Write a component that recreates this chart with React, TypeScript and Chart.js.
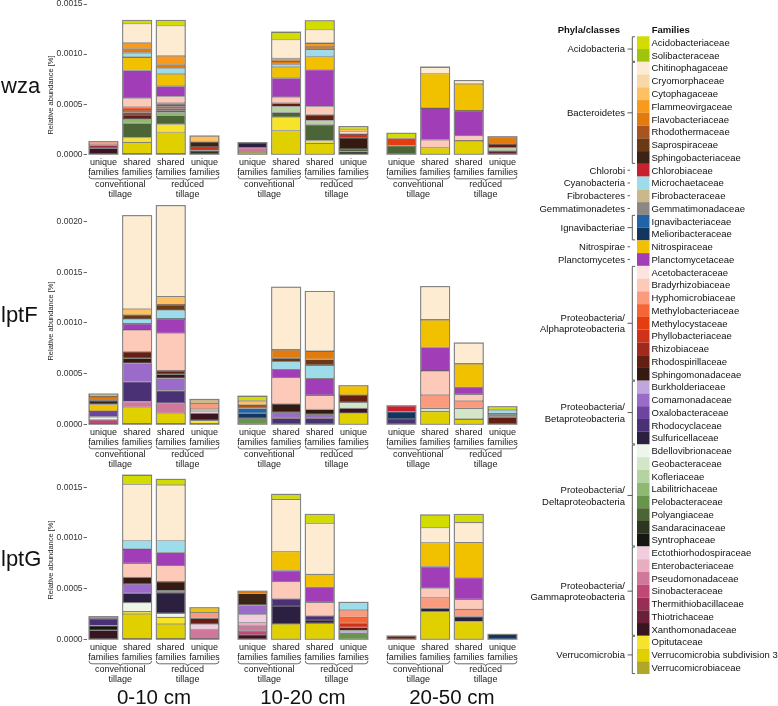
import React, { useEffect, useRef } from "react";
import { Chart, registerables } from "chart.js";
Chart.register(...registerables);

const FONT = "'Liberation Sans', Arial, Helvetica, sans-serif";

// ---------------- legend: families & colours ----------------
const families: string[] = [
  "Acidobacteriaceae", "Solibacteraceae",
  "Chitinophagaceae", "Cryomorphaceae", "Cytophagaceae", "Flammeovirgaceae", "Flavobacteriaceae",
  "Rhodothermaceae", "Saprospiraceae", "Sphingobacteriaceae",
  "Chlorobiaceae", "Microchaetaceae", "Fibrobacteraceae", "Gemmatimonadaceae",
  "Ignavibacteriaceae", "Melioribacteraceae", "Nitrospiraceae", "Planctomycetaceae",
  "Acetobacteraceae", "Bradyrhizobiaceae", "Hyphomicrobiaceae", "Methylobacteriaceae", "Methylocystaceae",
  "Phyllobacteriaceae", "Rhizobiaceae", "Rhodospirillaceae", "Sphingomonadaceae",
  "Burkholderiaceae", "Comamonadaceae", "Oxalobacteraceae", "Rhodocyclaceae", "Sulfuricellaceae",
  "Bdellovibrionaceae", "Geobacteraceae", "Kofleriaceae", "Labilitrichaceae", "Pelobacteraceae",
  "Polyangiaceae", "Sandaracinaceae", "Syntrophaceae",
  "Ectothiorhodospiraceae", "Enterobacteriaceae", "Pseudomonadaceae", "Sinobacteraceae",
  "Thermithiobacillaceae", "Thiotrichaceae", "Xanthomonadaceae",
  "Opitutaceae", "Verrucomicrobia subdivision 3", "Verrucomicrobiaceae",
];
const familyColors: string[] = [
  "#d2dc00", "#9fc40c",
  "#fdebd2", "#f6d9a6", "#fdc062", "#f89a1e", "#e27b0e",
  "#a8541c", "#6b3a15", "#3b2415",
  "#c8202f", "#9ddcea", "#cbb888", "#8c8782",
  "#1f63a8", "#13365f", "#f1c100", "#a23db8",
  "#fde4df", "#fdc9b9", "#fb9b7e", "#f56536", "#e43e10",
  "#cf3119", "#a12a1c", "#651f12", "#341a10",
  "#c1a6dc", "#9a6bc9", "#6d44a0", "#4a3075", "#2c2040",
  "#eef5ea", "#d3e6c8", "#b5d3a0", "#8fb872", "#67954a",
  "#4b6536", "#2c3620", "#161712",
  "#f2cde0", "#e7aec2", "#d0779c", "#c04875",
  "#982e54", "#6b2039", "#3a1520",
  "#f6e32a", "#e0d000", "#b0a62a",
];
const phylaLabels: string[][] = [
  ["Acidobacteria"], ["Bacteroidetes"], ["Chlorobi"], ["Cyanobacteria"], ["Fibrobacteres"],
  ["Gemmatimonadetes"], ["Ignavibacteriae"], ["Nitrospirae"], ["Planctomycetes"],
  ["Proteobacteria/", "Alphaproteobacteria"], ["Proteobacteria/", "Betaproteobacteria"],
  ["Proteobacteria/", "Deltaproteobacteria"], ["Proteobacteria/", "Gammaproteobacteria"],
  ["Verrucomicrobia"],
];
const phylaRanges: number[][] = [
  [0, 1], [2, 9], [10, 10], [11, 11], [12, 12], [13, 13], [14, 15], [16, 16], [17, 17],
  [18, 26], [27, 31], [32, 39], [40, 46], [47, 49],
];

// ---------------- categories / labels ----------------
const categories: string[][] = [["unique", "families"], ["shared", "families"], ["shared", "families"], ["unique", "families"]];
const tillageGroups: string[][] = [["conventional", "tillage"], ["reduced", "tillage"]];
const genes: string[] = ["wza", "lptF", "lptG"];
const depths: string[] = ["0-10 cm", "10-20 cm", "20-50 cm"];
const wzaTicks: number[] = [0, 0.0005, 0.001, 0.0015];
const lptFTicks: number[] = [0, 0.0005, 0.001, 0.0015, 0.002];
const lptGTicks: number[] = [0, 0.0005, 0.001, 0.0015];

type Seg = [string, number];
// each panel: [unique conv, shared conv, shared reduced, unique reduced]
const wza_0_10: Seg[][] = [
  [["Hyphomicrobiaceae", 36e-6], ["Thermithiobacillaceae", 31e-6], ["Xanthomonadaceae", 60e-6]],
  [["Acidobacteriaceae", 33e-6], ["Chitinophagaceae", 190e-6], ["Flammeovirgaceae", 60e-6], ["Flavobacteriaceae", 40e-6],
   ["Microchaetaceae", 43e-6], ["Nitrospiraceae", 133e-6], ["Planctomycetaceae", 277e-6], ["Bradyrhizobiaceae", 90e-6],
   ["Methylobacteriaceae", 27e-6], ["Methylocystaceae", 23e-6], ["Phyllobacteriaceae", 27e-6], ["Rhodospirillaceae", 40e-6],
   ["Labilitrichaceae", 43e-6], ["Polyangiaceae", 143e-6], ["Opitutaceae", 47e-6], ["Verrucomicrobia subdivision 3", 120e-6]],
  [["Acidobacteriaceae", 53e-6], ["Chitinophagaceae", 300e-6], ["Flammeovirgaceae", 90e-6], ["Flavobacteriaceae", 33e-6],
   ["Microchaetaceae", 57e-6], ["Nitrospiraceae", 123e-6], ["Planctomycetaceae", 103e-6], ["Bradyrhizobiaceae", 67e-6],
   ["Methylobacteriaceae", 15e-6], ["Methylocystaceae", 15e-6], ["Phyllobacteriaceae", 20e-6], ["Rhizobiaceae", 20e-6],
   ["Rhodospirillaceae", 20e-6], ["Labilitrichaceae", 33e-6], ["Polyangiaceae", 87e-6], ["Opitutaceae", 80e-6],
   ["Verrucomicrobia subdivision 3", 220e-6]],
  [["Cytophagaceae", 58e-6], ["Sphingobacteriaceae", 53e-6], ["Phyllobacteriaceae", 35e-6], ["Sandaracinaceae", 37e-6]],
];
const wza_10_20: Seg[][] = [
  [["Sulfuricellaceae", 51e-6], ["Pseudomonadaceae", 43e-6], ["Verrucomicrobiaceae", 23e-6]],
  [["Acidobacteriaceae", 77e-6], ["Chitinophagaceae", 186e-6], ["Flammeovirgaceae", 27e-6], ["Flavobacteriaceae", 33e-6],
   ["Microchaetaceae", 27e-6], ["Nitrospiraceae", 110e-6], ["Planctomycetaceae", 190e-6], ["Bradyrhizobiaceae", 60e-6],
   ["Rhodospirillaceae", 33e-6], ["Kofleriaceae", 60e-6], ["Polyangiaceae", 47e-6], ["Opitutaceae", 133e-6],
   ["Verrucomicrobia subdivision 3", 237e-6]],
  [["Acidobacteriaceae", 90e-6], ["Chitinophagaceae", 133e-6], ["Flammeovirgaceae", 27e-6], ["Flavobacteriaceae", 33e-6],
   ["Microchaetaceae", 73e-6], ["Nitrospiraceae", 133e-6], ["Planctomycetaceae", 367e-6], ["Bradyrhizobiaceae", 83e-6],
   ["Rhodospirillaceae", 57e-6], ["Kofleriaceae", 43e-6], ["Polyangiaceae", 157e-6], ["Opitutaceae", 27e-6],
   ["Verrucomicrobia subdivision 3", 110e-6]],
  [["Acidobacteriaceae", 27e-6], ["Cytophagaceae", 25e-6], ["Acetobacteraceae", 23e-6], ["Phyllobacteriaceae", 40e-6],
   ["Sphingomonadaceae", 108e-6], ["Polyangiaceae", 27e-6], ["Syntrophaceae", 27e-6]],
];
const wza_20_50: Seg[][] = [
  [["Acidobacteriaceae", 50e-6], ["Methylocystaceae", 73e-6], ["Polyangiaceae", 87e-6]],
  [["Chitinophagaceae", 67e-6], ["Nitrospiraceae", 343e-6], ["Planctomycetaceae", 317e-6], ["Bradyrhizobiaceae", 77e-6],
   ["Verrucomicrobia subdivision 3", 67e-6]],
  [["Chitinophagaceae", 33e-6], ["Nitrospiraceae", 270e-6], ["Planctomycetaceae", 247e-6], ["Bradyrhizobiaceae", 53e-6],
   ["Verrucomicrobia subdivision 3", 133e-6]],
  [["Flavobacteriaceae", 73e-6], ["Rhodospirillaceae", 37e-6], ["Kofleriaceae", 33e-6], ["Thiotrichaceae", 33e-6]],
];
const lptF_0_10: Seg[][] = [
  [["Cryomorphaceae", 20e-6], ["Flammeovirgaceae", 13e-6], ["Flavobacteriaceae", 33e-6], ["Sphingobacteriaceae", 37e-6],
   ["Nitrospiraceae", 66e-6], ["Oxalobacteraceae", 56e-6], ["Bdellovibrionaceae", 30e-6], ["Sinobacteraceae", 44e-6]],
  [["Chitinophagaceae", 921e-6], ["Cytophagaceae", 59e-6], ["Saprospiraceae", 39e-6], ["Microchaetaceae", 49e-6],
   ["Planctomycetaceae", 59e-6], ["Bradyrhizobiaceae", 214e-6], ["Rhodospirillaceae", 66e-6], ["Sphingomonadaceae", 49e-6],
   ["Comamonadaceae", 181e-6], ["Rhodocyclaceae", 197e-6], ["Pseudomonadaceae", 56e-6], ["Verrucomicrobia subdivision 3", 168e-6]],
  [["Chitinophagaceae", 898e-6], ["Cytophagaceae", 82e-6], ["Saprospiraceae", 49e-6], ["Microchaetaceae", 89e-6],
   ["Planctomycetaceae", 141e-6], ["Bradyrhizobiaceae", 372e-6], ["Rhodospirillaceae", 33e-6], ["Sphingomonadaceae", 39e-6],
   ["Comamonadaceae", 121e-6], ["Rhodocyclaceae", 125e-6], ["Pseudomonadaceae", 99e-6], ["Verrucomicrobia subdivision 3", 109e-6]],
  [["Fibrobacteraceae", 39e-6], ["Hyphomicrobiaceae", 56e-6], ["Geobacteraceae", 20e-6], ["Ectothiorhodospiraceae", 23e-6],
   ["Xanthomonadaceae", 69e-6], ["Opitutaceae", 39e-6]],
];
const lptF_10_20: Seg[][] = [
  [["Acidobacteriaceae", 46e-6], ["Cytophagaceae", 42e-6], ["Rhodothermaceae", 33e-6], ["Ignavibacteriaceae", 49e-6],
   ["Melioribacteraceae", 49e-6], ["Pelobacteraceae", 59e-6]],
  [["Chitinophagaceae", 619e-6], ["Flavobacteriaceae", 82e-6], ["Saprospiraceae", 33e-6], ["Microchaetaceae", 76e-6],
   ["Planctomycetaceae", 82e-6], ["Bradyrhizobiaceae", 260e-6], ["Sphingomonadaceae", 82e-6], ["Comamonadaceae", 59e-6],
   ["Rhodocyclaceae", 59e-6]],
  [["Chitinophagaceae", 588e-6], ["Flavobacteriaceae", 82e-6], ["Saprospiraceae", 56e-6], ["Microchaetaceae", 131e-6],
   ["Planctomycetaceae", 165e-6], ["Bradyrhizobiaceae", 141e-6], ["Sphingomonadaceae", 49e-6], ["Comamonadaceae", 39e-6],
   ["Rhodocyclaceae", 59e-6]],
  [["Nitrospiraceae", 92e-6], ["Rhodospirillaceae", 72e-6], ["Geobacteraceae", 59e-6], ["Xanthomonadaceae", 49e-6],
   ["Verrucomicrobia subdivision 3", 109e-6]],
];
const lptF_20_50: Seg[][] = [
  [["Chlorobiaceae", 59e-6], ["Melioribacteraceae", 72e-6], ["Rhodocyclaceae", 52e-6]],
  [["Chitinophagaceae", 329e-6], ["Nitrospiraceae", 269e-6], ["Planctomycetaceae", 234e-6], ["Bradyrhizobiaceae", 237e-6],
   ["Hyphomicrobiaceae", 131e-6], ["Geobacteraceae", 33e-6], ["Verrucomicrobia subdivision 3", 125e-6]],
  [["Chitinophagaceae", 207e-6], ["Nitrospiraceae", 230e-6], ["Planctomycetaceae", 69e-6], ["Bradyrhizobiaceae", 66e-6],
   ["Hyphomicrobiaceae", 72e-6], ["Geobacteraceae", 106e-6], ["Verrucomicrobia subdivision 3", 52e-6]],
  [["Acidobacteriaceae", 33e-6], ["Microchaetaceae", 39e-6], ["Gemmatimonadaceae", 33e-6], ["Rhodospirillaceae", 69e-6]],
];
const lptG_0_10: Seg[][] = [
  [["Flavobacteriaceae", 20e-6], ["Rhodocyclaceae", 69e-6], ["Syntrophaceae", 46e-6], ["Xanthomonadaceae", 89e-6]],
  [["Acidobacteriaceae", 92e-6], ["Chitinophagaceae", 556e-6], ["Microchaetaceae", 82e-6], ["Planctomycetaceae", 141e-6],
   ["Bradyrhizobiaceae", 138e-6], ["Sphingomonadaceae", 66e-6], ["Comamonadaceae", 92e-6], ["Sulfuricellaceae", 92e-6],
   ["Bdellovibrionaceae", 89e-6], ["Opitutaceae", 23e-6], ["Verrucomicrobia subdivision 3", 250e-6]],
  [["Acidobacteriaceae", 56e-6], ["Chitinophagaceae", 550e-6], ["Microchaetaceae", 115e-6], ["Planctomycetaceae", 131e-6],
   ["Bradyrhizobiaceae", 158e-6], ["Sphingomonadaceae", 89e-6], ["Comamonadaceae", 20e-6], ["Sulfuricellaceae", 204e-6],
   ["Bdellovibrionaceae", 39e-6], ["Opitutaceae", 66e-6], ["Verrucomicrobia subdivision 3", 151e-6]],
  [["Nitrospiraceae", 46e-6], ["Hyphomicrobiaceae", 59e-6], ["Rhodospirillaceae", 56e-6], ["Ectothiorhodospiraceae", 52e-6],
   ["Pseudomonadaceae", 99e-6]],
];
const lptG_10_20: Seg[][] = [
  [["Flavobacteriaceae", 23e-6], ["Sphingobacteriaceae", 115e-6], ["Comamonadaceae", 92e-6], ["Ectothiorhodospiraceae", 79e-6],
   ["Enterobacteriaceae", 33e-6], ["Pseudomonadaceae", 49e-6], ["Sinobacteraceae", 42e-6], ["Xanthomonadaceae", 42e-6]],
  [["Acidobacteriaceae", 49e-6], ["Chitinophagaceae", 516e-6], ["Nitrospiraceae", 188e-6], ["Planctomycetaceae", 109e-6],
   ["Bradyrhizobiaceae", 171e-6], ["Rhodocyclaceae", 69e-6], ["Sulfuricellaceae", 178e-6], ["Verrucomicrobia subdivision 3", 151e-6]],
  [["Acidobacteriaceae", 89e-6], ["Chitinophagaceae", 503e-6], ["Nitrospiraceae", 128e-6], ["Planctomycetaceae", 148e-6],
   ["Bradyrhizobiaceae", 135e-6], ["Rhodocyclaceae", 39e-6], ["Sulfuricellaceae", 33e-6], ["Verrucomicrobia subdivision 3", 158e-6]],
  [["Microchaetaceae", 76e-6], ["Hyphomicrobiaceae", 72e-6], ["Methylobacteriaceae", 59e-6], ["Phyllobacteriaceae", 39e-6],
   ["Rhodospirillaceae", 33e-6], ["Burkholderiaceae", 27e-6], ["Pelobacteraceae", 59e-6]],
];
const lptG_20_50: Seg[][] = [
  [["Rhodospirillaceae", 33e-6]],
  [["Acidobacteriaceae", 125e-6], ["Chitinophagaceae", 148e-6], ["Nitrospiraceae", 237e-6], ["Planctomycetaceae", 214e-6],
   ["Bradyrhizobiaceae", 92e-6], ["Hyphomicrobiaceae", 106e-6], ["Sulfuricellaceae", 33e-6], ["Verrucomicrobia subdivision 3", 273e-6]],
  [["Acidobacteriaceae", 82e-6], ["Chitinophagaceae", 197e-6], ["Nitrospiraceae", 345e-6], ["Planctomycetaceae", 214e-6],
   ["Bradyrhizobiaceae", 99e-6], ["Hyphomicrobiaceae", 72e-6], ["Sulfuricellaceae", 49e-6], ["Verrucomicrobia subdivision 3", 175e-6]],
  [["Melioribacteraceae", 49e-6]],
];

const panelData: Seg[][][][] = [
  [wza_0_10, wza_10_20, wza_20_50],
  [lptF_0_10, lptF_10_20, lptF_20_50],
  [lptG_0_10, lptG_10_20, lptG_20_50],
];
const rowTicks: number[][] = [wzaTicks, lptFTicks, lptGTicks];

// ---------------- layout (page pixels) ----------------
const ROW_LAYOUT = [
  { zeroY: 154.3, pxPer: 100.2, areaTop: 2, titleY: 95, labelBase: 93 },
  { zeroY: 424.3, pxPer: 101.4, areaTop: 200, titleY: 321, labelBase: 322 },
  { zeroY: 639.3, pxPer: 101.3, areaTop: 470, titleY: 560, labelBase: 566 },
];
const COL_AREA_LEFT = [86.6, 235.6, 384.6];
const AREA_W = 134.7;
const X_AXIS_H = 24;
const BAR_PCT = 0.86;

function Panel({ row, col }: { row: number; col: number }) {
  const ref = useRef<HTMLCanvasElement>(null);
  const R = ROW_LAYOUT[row];
  const areaLeft = COL_AREA_LEFT[col];
  const canvasLeft = col === 0 ? 40 : Math.floor(areaLeft) - 6;
  const yAxisW = col === 0 ? areaLeft - canvasLeft : 0;
  const padLeft = col === 0 ? 0 : areaLeft - canvasLeft;
  const canvasW = Math.ceil(areaLeft + AREA_W + 6) - canvasLeft;
  const padRight = canvasW - (areaLeft + AREA_W - canvasLeft);
  const canvasTop = Math.floor(R.areaTop) - 8;
  const padTop = R.areaTop - canvasTop;
  const canvasH = Math.ceil(R.zeroY + 50) - canvasTop;
  const padBottom = canvasH - (R.zeroY - canvasTop) - X_AXIS_H;
  const yMax = ((R.zeroY - R.areaTop) / R.pxPer) * 0.001;

  useEffect(() => {
    const bars = panelData[row][col];
    const datasets: any[] = [];
    for (let f = families.length - 1; f >= 0; f--) {
      const name = families[f];
      const data = bars.map((bar) => {
        const s = bar.filter((sg) => sg[0] === name);
        return s.length ? s.reduce((a, b) => a + b[1], 0) : null;
      });
      if (data.some((v) => v !== null)) {
        datasets.push({
          label: name,
          data,
          backgroundColor: familyColors[f],
          borderColor: "#2e2e2e",
          borderWidth: 0.6,
          borderSkipped: false,
          barPercentage: BAR_PCT,
          categoryPercentage: 1,
        });
      }
    }
    const ticksArr = rowTicks[row];
    const decor = {
      id: "decor",
      afterDatasetsDraw(chart: any) {
        const ctx = chart.ctx;
        const xs = chart.scales.x;
        const ys = chart.scales.y;
        const bw = ((xs.right - xs.left) / categories.length) * BAR_PCT;
        ctx.save();
        ctx.strokeStyle = "#808080";
        ctx.lineWidth = 1;
        for (let i = 0; i < categories.length; i++) {
          let total = 0;
          chart.data.datasets.forEach((d: any) => {
            if (d.data[i] != null) total += d.data[i];
          });
          if (total <= 0) continue;
          const x = xs.getPixelForValue(i);
          const top = ys.getPixelForValue(total);
          const bot = ys.getPixelForValue(0);
          ctx.strokeRect(x - bw / 2, top, bw, bot - top);
        }
        ctx.restore();
      },
      afterDraw(chart: any) {
        const ctx = chart.ctx;
        const xs = chart.scales.x;
        const ys = chart.scales.y;
        const bw = ((xs.right - xs.left) / categories.length) * BAR_PCT;
        const zero = ys.getPixelForValue(0);
        const y0 = zero + 24.5;
        ctx.save();
        ctx.strokeStyle = "#444";
        ctx.lineWidth = 0.8;
        ctx.fillStyle = "#1a1a1a";
        ctx.font = `9px ${FONT}`;
        ctx.textAlign = "center";
        ctx.textBaseline = "alphabetic";
        tillageGroups.forEach((g, gi) => {
          const L = xs.getPixelForValue(gi * 2) - bw / 2;
          const Rr = xs.getPixelForValue(gi * 2 + 1) + bw / 2;
          const M = (L + Rr) / 2;
          ctx.beginPath();
          ctx.moveTo(L, y0 - 3);
          ctx.quadraticCurveTo(L, y0, L + 3, y0);
          ctx.lineTo(M - 3, y0);
          ctx.quadraticCurveTo(M, y0, M, y0 + 2.5);
          ctx.quadraticCurveTo(M, y0, M + 3, y0);
          ctx.lineTo(Rr - 3, y0);
          ctx.quadraticCurveTo(Rr, y0, Rr, y0 - 3);
          ctx.stroke();
          ctx.fillText(g[0], M, zero + 33);
          ctx.fillText(g[1], M, zero + 43);
        });
        ctx.restore();
      },
    };
    const chart = new Chart(ref.current as HTMLCanvasElement, {
      type: "bar",
      data: { labels: categories, datasets },
      options: {
        animation: false,
        responsive: false,
        maintainAspectRatio: false,
        layout: { padding: { left: padLeft, right: padRight, top: padTop, bottom: padBottom } },
        plugins: { legend: { display: false }, tooltip: { enabled: false }, title: { display: false } },
        scales: {
          x: {
            stacked: true,
            grid: { display: false, drawTicks: false },
            border: { display: false },
            ticks: {
              font: { size: 9, family: FONT, lineHeight: 1.2 },
              color: "#1a1a1a",
              padding: 2.5,
              maxRotation: 0,
              autoSkip: false,
            },
            afterFit: (s: any) => {
              s.height = X_AXIS_H;
            },
          },
          y: {
            stacked: true,
            display: col === 0,
            min: 0,
            max: yMax,
            grid: { display: true, drawOnChartArea: false, drawTicks: true, tickLength: 3, color: "#444", lineWidth: 0.8 },
            border: { display: false },
            ticks: {
              font: { size: 8.5, family: FONT },
              color: "#333",
              padding: 1,
              callback: (v: any) => Number(v).toFixed(4),
            },
            afterBuildTicks: (s: any) => {
              s.ticks = ticksArr.map((v) => ({ value: v }));
            },
            afterFit: (s: any) => {
              s.width = yAxisW;
            },
          },
        },
      } as any,
      plugins: [decor],
    });
    return () => chart.destroy();
  }, []);

  return (
    <canvas
      ref={ref}
      width={canvasW}
      height={canvasH}
      style={{ position: "absolute", left: canvasLeft, top: canvasTop, width: canvasW, height: canvasH }}
    />
  );
}

const LEG_TOP = 36.3;
const LEG_PITCH = 12.755;

function Overlay() {
  return (
    <svg
      width={778}
      height={706}
      style={{ position: "absolute", left: 0, top: 0, pointerEvents: "none" }}
      fontFamily="Liberation Sans, Arial, Helvetica, sans-serif"
    >
      {genes.map((g, r) => (
        <text key={"g" + g} x={1} y={ROW_LAYOUT[r].labelBase} fontSize={22} fill="#111">
          {g}
        </text>
      ))}
      {ROW_LAYOUT.map((R, r) => (
        <text
          key={"t" + r}
          transform={`translate(52.5, ${R.titleY}) rotate(-90)`}
          textAnchor="middle"
          fontSize={7.5}
          fill="#222"
        >
          Relative abundance [%]
        </text>
      ))}
      {depths.map((d, c) => (
        <text key={"d" + d} x={COL_AREA_LEFT[c] + AREA_W / 2} y={704} textAnchor="middle" fontSize={20.5} fill="#111">
          {d}
        </text>
      ))}
      <text x={620} y={32.5} textAnchor="end" fontSize={9.5} fontWeight="bold" fill="#111">
        Phyla/classes
      </text>
      <text x={651.7} y={32.5} fontSize={9.5} fontWeight="bold" fill="#111">
        Families
      </text>
      {families.map((f, i) => (
        <g key={"f" + f}>
          <rect x={637} y={LEG_TOP + i * LEG_PITCH} width={12.5} height={LEG_PITCH} fill={familyColors[i]} />
          <text x={651.5} y={LEG_TOP + (i + 0.5) * LEG_PITCH + 3.3} fontSize={9.5} fill="#111">
            {f}
          </text>
        </g>
      ))}
      {phylaRanges.map((rg, k) => {
        const top = LEG_TOP + rg[0] * LEG_PITCH + 0.5;
        const bot = LEG_TOP + (rg[1] + 1) * LEG_PITCH - 0.5;
        const mid = (top + bot) / 2;
        const lines = phylaLabels[k];
        return (
          <g key={"p" + k}>
            {rg[0] !== rg[1] ? (
              <>
                <path d={`M635 ${top} L632.3 ${top} L632.3 ${bot} L635 ${bot}`} stroke="#333" strokeWidth={0.8} fill="none" />
                <line x1={627.5} y1={mid} x2={632.3} y2={mid} stroke="#333" strokeWidth={0.8} />
              </>
            ) : (
              <line x1={627.5} y1={mid} x2={630} y2={mid} stroke="#333" strokeWidth={0.8} />
            )}
            {lines.map((ln, j) => (
              <text
                key={j}
                x={625}
                y={mid + 3.3 + (j - (lines.length - 1) / 2) * 11.6}
                textAnchor="end"
                fontSize={9.5}
                fill="#111"
              >
                {ln}
              </text>
            ))}
          </g>
        );
      })}
    </svg>
  );
}

export default function App() {
  return (
    <div style={{ position: "fixed", left: 0, top: 0, width: 778, height: 706, background: "#fff", overflow: "hidden" }}>
      {[0, 1, 2].map((r) => [0, 1, 2].map((c) => <Panel key={`${r}-${c}`} row={r} col={c} />))}
      <Overlay />
    </div>
  );
}
